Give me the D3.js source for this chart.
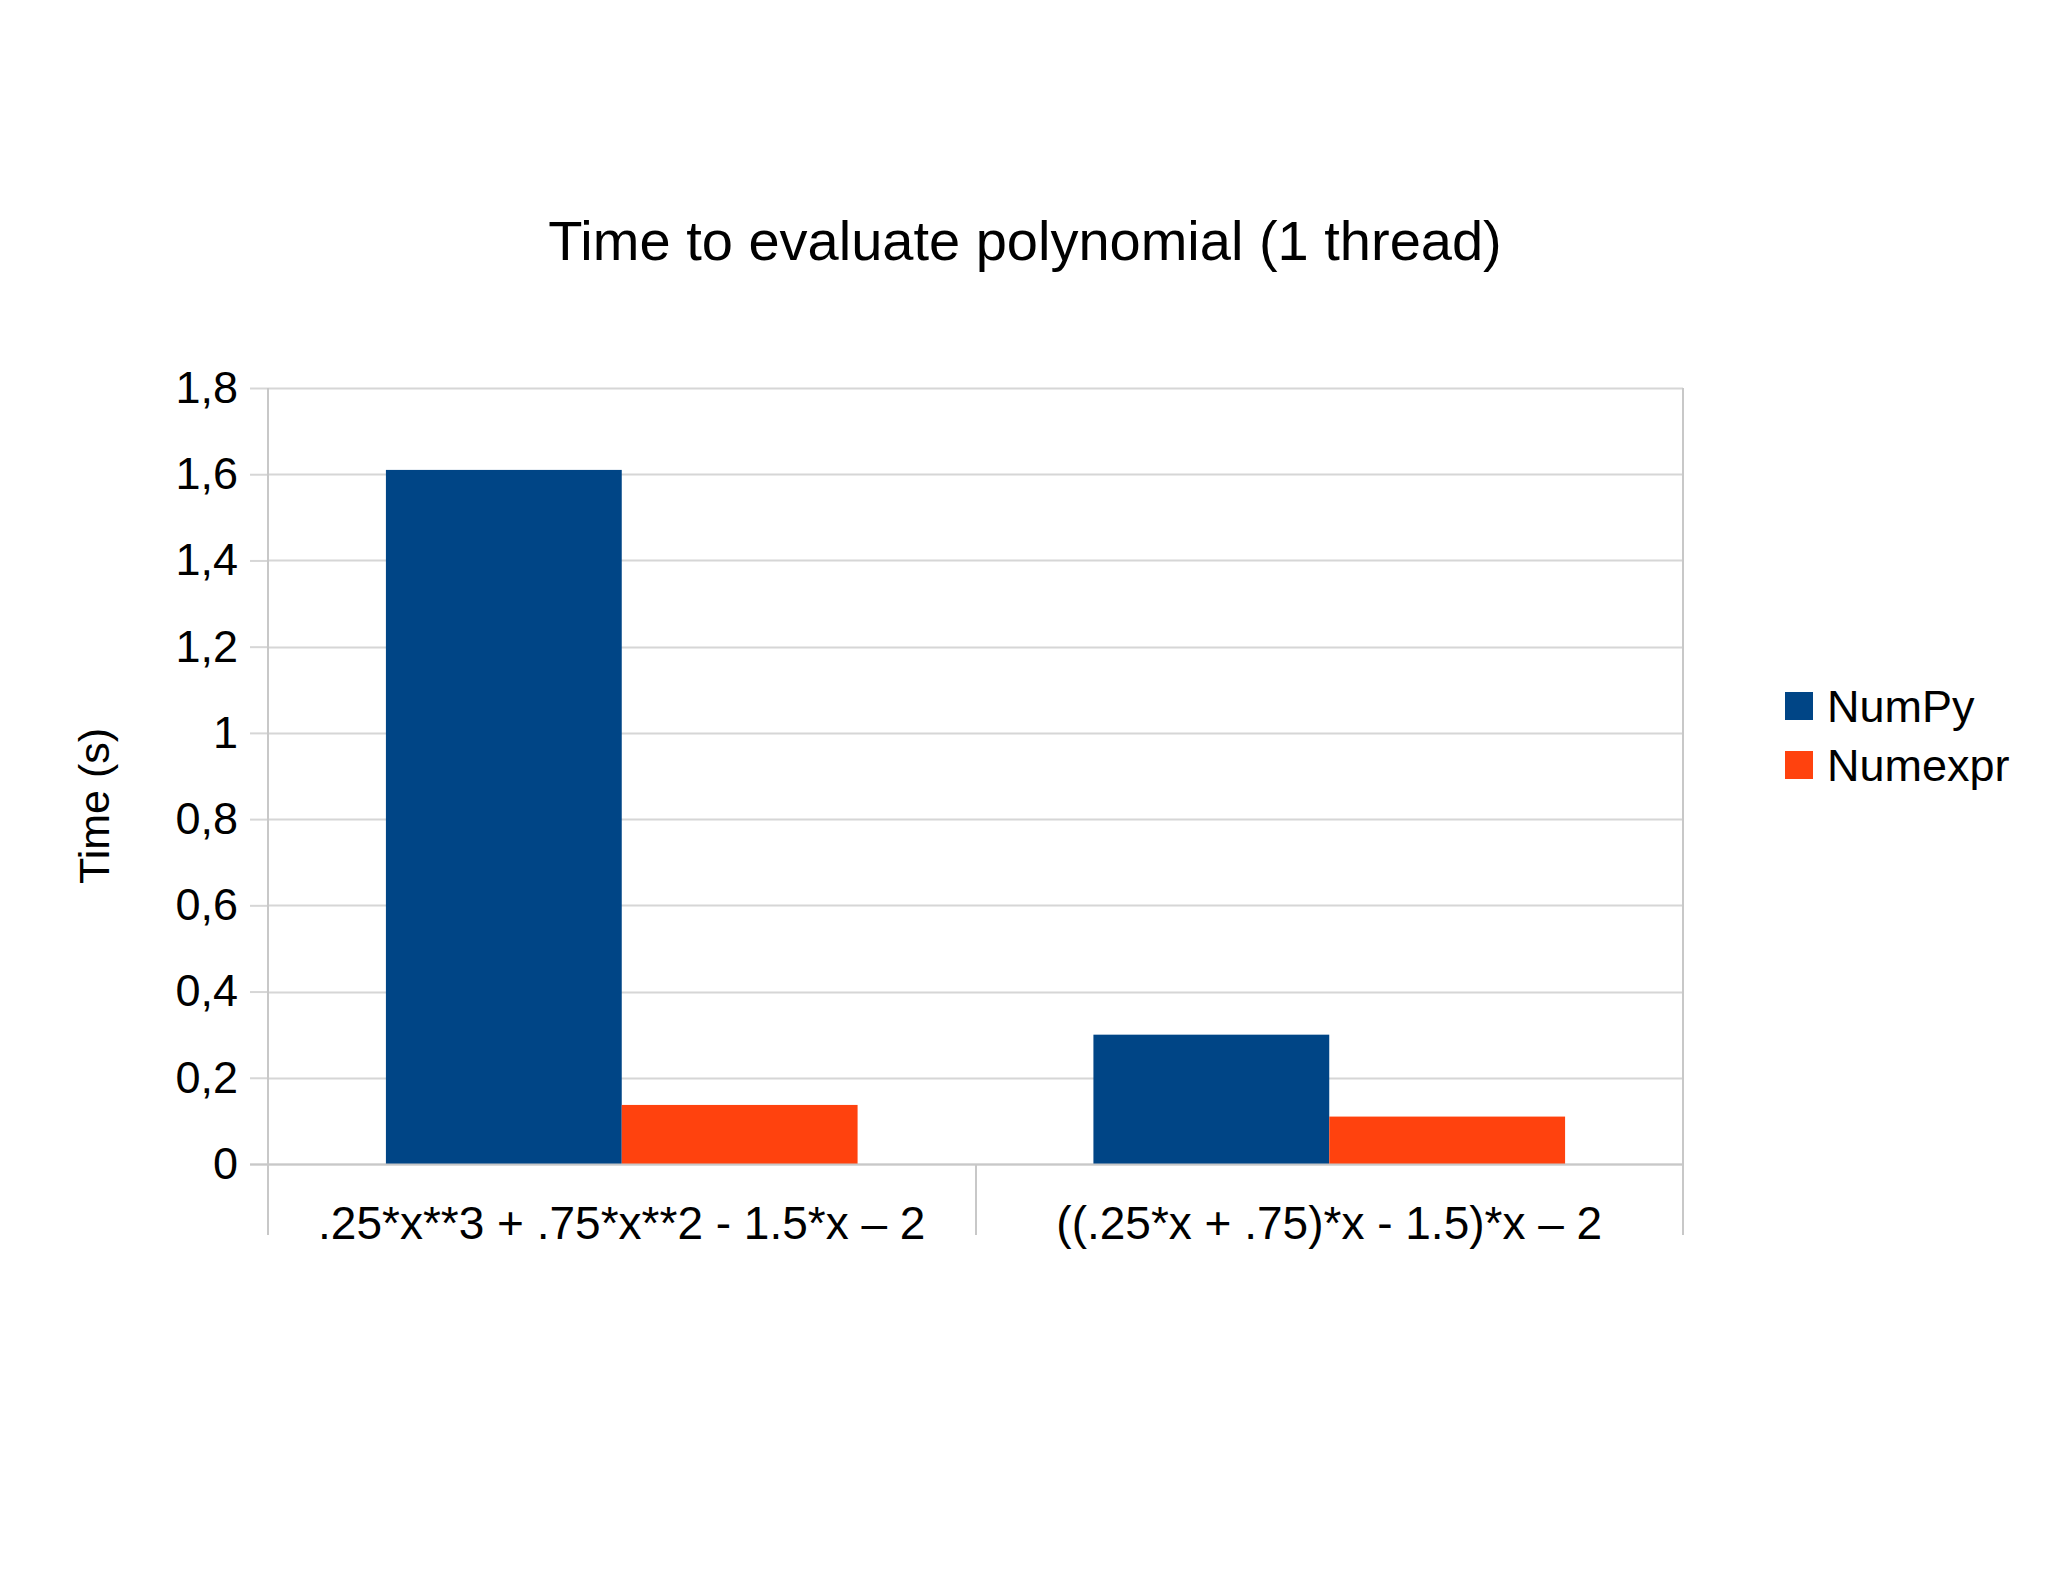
<!DOCTYPE html>
<html>
<head>
<meta charset="utf-8">
<script src="https://cdn.jsdelivr.net/npm/d3@7"></script>
<style>
  html, body { margin: 0; padding: 0; background: #fff; }
  svg text { font-family: "Liberation Sans", Arial, sans-serif; fill: #000; }
</style>
</head>
<body>
<div id="chart"></div>
<script>
// categories, series and values
const categories = ['.25*x**3 + .75*x**2 - 1.5*x \u2013 2', '((.25*x + .75)*x - 1.5)*x \u2013 2'];
const seriesNames = ['NumPy', 'Numexpr'];
const numpyTimes = [1.61, 0.30];
const numexprTimes = [0.137, 0.110];
const yTicks = [0, 0.2, 0.4, 0.6, 0.8, 1, 1.2, 1.4, 1.6, 1.8];
const yTickLabels = ['0', '0,2', '0,4', '0,6', '0,8', '1', '1,2', '1,4', '1,6', '1,8'];

(function () {
  const W = 2048, H = 1582;
  const plot = { left: 268, right: 1683, top: 388, bottom: 1164 };
  const colors = { NumPy: '#004586', Numexpr: '#ff420e' };
  const grid = '#d6d6d6';
  const axisCol = '#c8c8c8';

  const rows = categories.map((c, i) => ({ cat: c, NumPy: numpyTimes[i], Numexpr: numexprTimes[i] }));

  const svg = d3.select('#chart').append('svg')
    .attr('width', W).attr('height', H);

  // title
  svg.append('text')
    .attr('x', 1025).attr('y', 260)
    .attr('text-anchor', 'middle')
    .attr('font-size', 56)
    .text('Time to evaluate polynomial (1 thread)');

  const y = d3.scaleLinear().domain([0, 1.8]).range([plot.bottom, plot.top]);
  const x0 = d3.scaleBand().domain(categories).range([plot.left, plot.right]).padding(0);
  const x1 = d3.scaleBand().domain(seriesNames).range([0, x0.bandwidth()])
    .paddingInner(0).paddingOuter(0.5);

  // horizontal gridlines
  svg.append('g')
    .selectAll('line')
    .data(yTicks)
    .enter().append('line')
    .attr('x1', plot.left).attr('x2', plot.right)
    .attr('y1', (d) => Math.round(y(d)) + 0.5)
    .attr('y2', (d) => Math.round(y(d)) + 0.5)
    .attr('stroke', grid).attr('stroke-width', 2);

  // y axis with outer ticks
  svg.append('g')
    .attr('transform', `translate(${plot.left},0)`)
    .call(d3.axisLeft(y).tickValues(yTicks).tickSize(18).tickPadding(12)
      .tickFormat((d, i) => yTickLabels[i]))
    .call((g) => g.select('.domain').remove())
    .call((g) => g.selectAll('line').attr('stroke', grid).attr('stroke-width', 2))
    .call((g) => g.selectAll('text')
      .attr('font-size', 45)
      .attr('font-family', '"Liberation Sans", Arial, sans-serif')
      .attr('fill', '#000'));

  // vertical lines at category boundaries (down past the baseline)
  const bounds = categories.map((c) => x0(c)).concat([x0(categories[categories.length - 1]) + x0.bandwidth()]);
  svg.append('g')
    .selectAll('line')
    .data(bounds)
    .enter().append('line')
    .attr('x1', (d) => Math.round(d)).attr('x2', (d) => Math.round(d))
    .attr('y1', (d, i) => (i === 1 ? plot.bottom : plot.top))
    .attr('y2', 1235)
    .attr('stroke', axisCol).attr('stroke-width', 2);

  // bars
  const groups = svg.append('g')
    .selectAll('g')
    .data(rows)
    .enter().append('g')
    .attr('transform', (d) => `translate(${x0(d.cat)},0)`);

  groups.selectAll('rect')
    .data((d) => seriesNames.map((s) => ({ key: s, value: d[s] })))
    .enter().append('rect')
    .attr('x', (d) => x1(d.key))
    .attr('width', x1.bandwidth())
    .attr('y', (d) => y(d.value))
    .attr('height', (d) => y(0) - y(d.value))
    .attr('fill', (d) => colors[d.key]);

  // baseline
  svg.append('line')
    .attr('x1', plot.left - 18).attr('x2', plot.right)
    .attr('y1', plot.bottom + 0.5).attr('y2', plot.bottom + 0.5)
    .attr('stroke', axisCol).attr('stroke-width', 2);

  // category labels
  svg.append('g')
    .attr('transform', `translate(0,${plot.bottom})`)
    .call(d3.axisBottom(x0).tickSize(0).tickPadding(42))
    .call((g) => g.select('.domain').remove())
    .call((g) => g.selectAll('text')
      .attr('font-size', 46)
      .attr('font-family', '"Liberation Sans", Arial, sans-serif')
      .attr('fill', '#000'));

  // y axis title
  svg.append('text')
    .attr('transform', 'translate(109,806) rotate(-90)')
    .attr('text-anchor', 'middle')
    .attr('font-size', 43)
    .text('Time (s)');

  // legend
  const legend = svg.append('g')
    .selectAll('g')
    .data(seriesNames)
    .enter().append('g')
    .attr('transform', (d, i) => `translate(1785,${692 + i * 59})`);

  legend.append('rect')
    .attr('width', 28).attr('height', 28)
    .attr('fill', (d) => colors[d]);

  legend.append('text')
    .attr('x', 42).attr('y', 30)
    .attr('font-size', 45)
    .text((d) => d);
})();
</script>
</body>
</html>
